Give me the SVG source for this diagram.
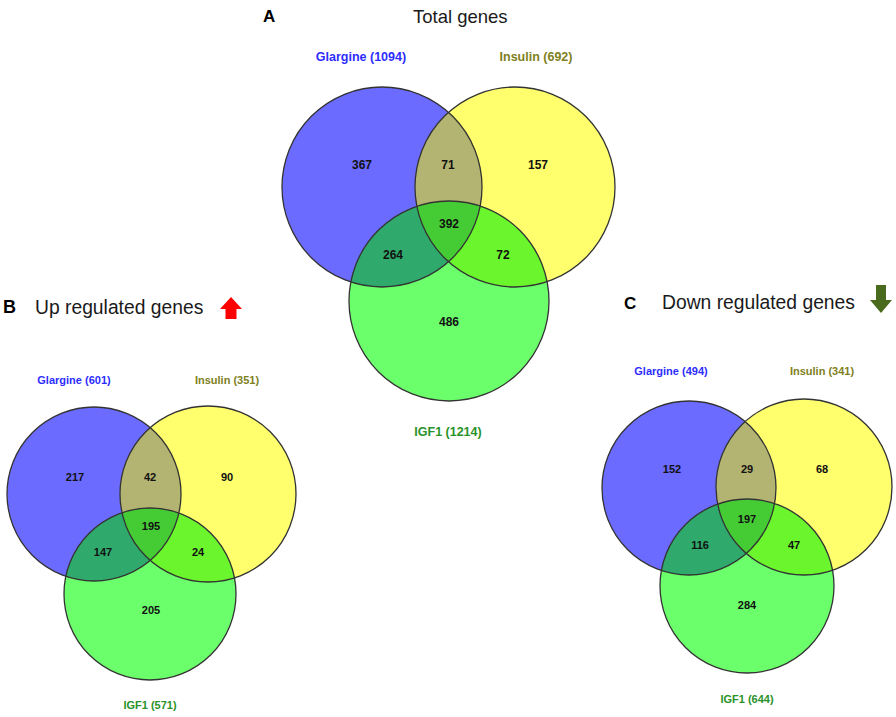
<svg xmlns="http://www.w3.org/2000/svg" width="896" height="717" viewBox="0 0 896 717">
<style>
.bg{fill:#ffffff}
.g{fill:#6b6bff}
.i{fill:#ffff6e}
.f{fill:#6cff6c}
.gi{fill:#b3b372}
.gf{fill:#2faa6c}
.if{fill:#6af52c}
.gif{fill:#45cc35}
.ol{fill:none;stroke:#333333;stroke-width:1.3}
.num{font-family:"Liberation Sans",Arial,sans-serif;font-weight:bold;text-anchor:middle;fill:#111111}
.lab{font-family:"Liberation Sans",Arial,sans-serif;font-weight:bold;text-anchor:middle}
.lg{fill:#2d2dff}
.li{fill:#7f7f22}
.lf{fill:#2a922a}
.title{font-family:"Liberation Sans",Arial,sans-serif;fill:#1a1a1a}
.letter{font-family:"Liberation Sans",Arial,sans-serif;font-weight:bold;fill:#000000}
</style>
<defs>
<clipPath id="cAG"><circle cx="382" cy="187" r="100"/></clipPath>
<clipPath id="cAI"><circle cx="515" cy="187" r="100"/></clipPath>
<clipPath id="cBG"><circle cx="94" cy="494" r="87"/></clipPath>
<clipPath id="cBI"><circle cx="208" cy="494" r="88"/></clipPath>
<clipPath id="cCG"><circle cx="689" cy="488" r="87"/></clipPath>
<clipPath id="cCI"><circle cx="804" cy="487" r="88"/></clipPath>
</defs>
<rect class="bg" x="0" y="0" width="896" height="717"/>

<g id="panel-A">
<text class="letter" x="263" y="22" font-size="17">A</text>
<text class="title" x="413" y="23" font-size="18.5">Total genes</text>
<g id="A-venn">
<circle class="g" cx="382" cy="187" r="100"/>
<circle class="i" cx="515" cy="187" r="100"/>
<circle class="f" cx="449" cy="301" r="100"/>
<circle class="gi" cx="515" cy="187" r="100" clip-path="url(#cAG)"/>
<circle class="gf" cx="449" cy="301" r="100" clip-path="url(#cAG)"/>
<circle class="if" cx="449" cy="301" r="100" clip-path="url(#cAI)"/>
<g clip-path="url(#cAG)"><circle class="gif" cx="449" cy="301" r="100" clip-path="url(#cAI)"/></g>
<circle class="ol" cx="382" cy="187" r="100"/>
<circle class="ol" cx="515" cy="187" r="100"/>
<circle class="ol" cx="449" cy="301" r="100"/>
</g>
<g id="A-labels">
<text class="lab lg" x="361" y="61" font-size="12.5">Glargine (1094)</text>
<text class="lab li" x="536" y="61" font-size="12.5">Insulin (692)</text>
<text class="lab lf" x="448" y="436" font-size="12.5">IGF1 (1214)</text>
</g>
<g id="A-numbers" font-size="12">
<text class="num" x="362" y="169">367</text>
<text class="num" x="448" y="169">71</text>
<text class="num" x="538" y="169">157</text>
<text class="num" x="449" y="228">392</text>
<text class="num" x="393" y="259">264</text>
<text class="num" x="503" y="259">72</text>
<text class="num" x="449" y="326">486</text>
</g>
</g>

<g id="panel-B">
<text class="letter" x="3" y="313" font-size="18">B</text>
<text class="title" x="35" y="314" font-size="19.3">Up regulated genes</text>
<polygon id="B-arrow" points="231,297 242,309 236.5,309 236.5,319 225.5,319 225.5,309 220,309" fill="#ff0000"/>
<g id="B-venn">
<circle class="g" cx="94" cy="494" r="87"/>
<circle class="i" cx="208" cy="494" r="88"/>
<circle class="f" cx="150" cy="594" r="86"/>
<circle class="gi" cx="208" cy="494" r="88" clip-path="url(#cBG)"/>
<circle class="gf" cx="150" cy="594" r="86" clip-path="url(#cBG)"/>
<circle class="if" cx="150" cy="594" r="86" clip-path="url(#cBI)"/>
<g clip-path="url(#cBG)"><circle class="gif" cx="150" cy="594" r="86" clip-path="url(#cBI)"/></g>
<circle class="ol" cx="94" cy="494" r="87"/>
<circle class="ol" cx="208" cy="494" r="88"/>
<circle class="ol" cx="150" cy="594" r="86"/>
</g>
<g id="B-labels">
<text class="lab lg" x="74" y="384" font-size="11">Glargine (601)</text>
<text class="lab li" x="227" y="384" font-size="11">Insulin (351)</text>
<text class="lab lf" x="150" y="709" font-size="11">IGF1 (571)</text>
</g>
<g id="B-numbers" font-size="11">
<text class="num" x="75" y="481">217</text>
<text class="num" x="150" y="481">42</text>
<text class="num" x="227" y="481">90</text>
<text class="num" x="151" y="530">195</text>
<text class="num" x="103" y="556">147</text>
<text class="num" x="198" y="556">24</text>
<text class="num" x="151" y="614">205</text>
</g>
</g>

<g id="panel-C">
<text class="letter" x="624" y="309" font-size="17">C</text>
<text class="title" x="662" y="309" font-size="19.3">Down regulated genes</text>
<polygon id="C-arrow" points="876,285 886,285 886,300 892,300 881,313 870,300 876,300" fill="#4a6b1e"/>
<g id="C-venn">
<circle class="g" cx="689" cy="488" r="87"/>
<circle class="i" cx="804" cy="487" r="88"/>
<circle class="f" cx="747" cy="586" r="87"/>
<circle class="gi" cx="804" cy="487" r="88" clip-path="url(#cCG)"/>
<circle class="gf" cx="747" cy="586" r="87" clip-path="url(#cCG)"/>
<circle class="if" cx="747" cy="586" r="87" clip-path="url(#cCI)"/>
<g clip-path="url(#cCG)"><circle class="gif" cx="747" cy="586" r="87" clip-path="url(#cCI)"/></g>
<circle class="ol" cx="689" cy="488" r="87"/>
<circle class="ol" cx="804" cy="487" r="88"/>
<circle class="ol" cx="747" cy="586" r="87"/>
</g>
<g id="C-labels">
<text class="lab lg" x="671" y="375" font-size="11">Glargine (494)</text>
<text class="lab li" x="822" y="375" font-size="11">Insulin (341)</text>
<text class="lab lf" x="747" y="703" font-size="11">IGF1 (644)</text>
</g>
<g id="C-numbers" font-size="11">
<text class="num" x="672" y="473">152</text>
<text class="num" x="747" y="473">29</text>
<text class="num" x="822" y="473">68</text>
<text class="num" x="747" y="523">197</text>
<text class="num" x="700" y="549">116</text>
<text class="num" x="794" y="549">47</text>
<text class="num" x="747" y="609">284</text>
</g>
</g>
</svg>
